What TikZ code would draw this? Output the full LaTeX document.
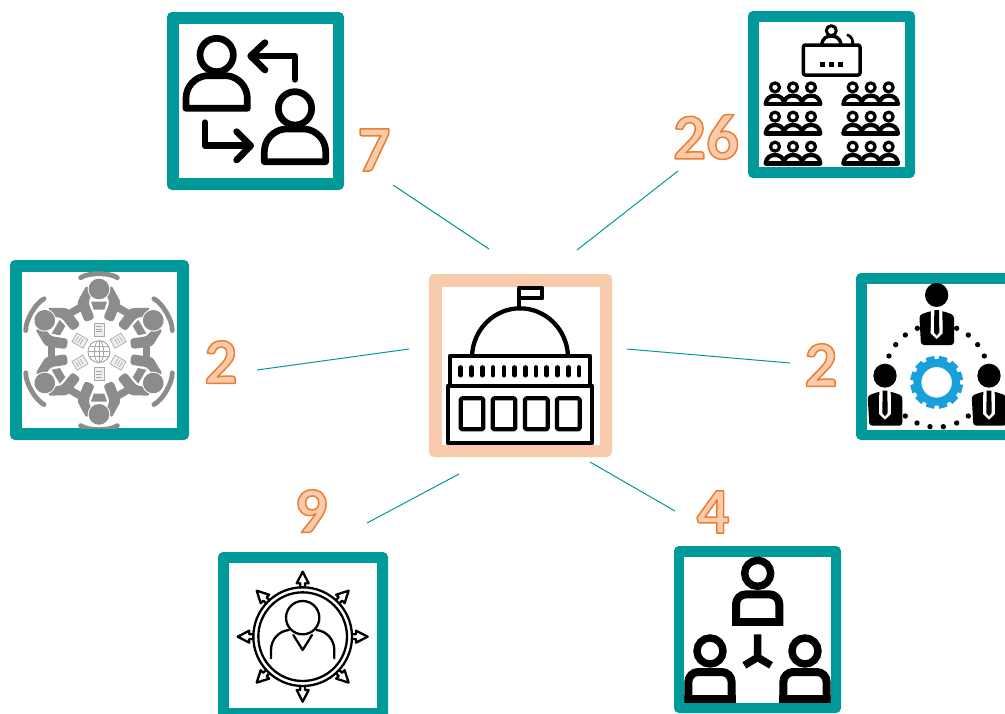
\documentclass[tikz,border=0pt]{standalone}
\usepackage{fontspec}
\newfontface\countfont{Carlito Bold}
\definecolor{teal0}{HTML}{009999}
\definecolor{peach}{HTML}{F8CBAD}
\definecolor{grey0}{HTML}{8C8C8C}
\definecolor{grey1}{HTML}{A8A8A8}
\definecolor{grey2}{HTML}{EFEFEF}
\definecolor{gearblue}{HTML}{17A0DC}
\newcommand\outl[1]{\special{pdf:code 1 j 2 Tr 1.5 w 0.93 0.49 0.19 RG 0.973 0.796 0.678 rg}#1}
\tikzset{
  zoomed/.style={x=0.33333pt,y=-0.33333pt},
  outerbox/.style={fill=#1,rounded corners=5pt,inner sep=0pt,outer sep=0pt},
  innerbox/.style={fill=white,inner sep=0pt,outer sep=0pt},
  spoke/.style={draw=teal0,line width=1pt},
  countlabel/.style={inner sep=0pt,font=\countfont\fontsize{65}{65}\selectfont},
  ink/.style={draw=black,line join=round,line cap=round},
}
\newcommand\iconperson{%
  \draw[ink,line width=6.7pt] (0,0) circle[radius=50];
  \draw[ink,line width=6.7pt] (-92,160)--(92,160)--(92,130) .. controls (92,95) and (65,65) .. (30,62) -- (-30,62) .. controls (-65,65) and (-92,95) .. (-92,130) -- cycle;
}
\newcommand\hallgroup{%
  \foreach \px in {0,54,108}{
    \draw[ink,line width=3.2pt] (\px,0) circle[radius=13.5];
    \draw[ink,line width=4.2pt] (\px-28,50) .. controls (\px-26,32) and (\px-14,25) .. (\px,25) .. controls (\px+14,25) and (\px+26,32) .. (\px+28,50);
  }
  \draw[ink,line width=4.4pt] (-26,50) -- (134,50);
}
\newcommand\suit{%
  \fill[black] (0,0) ellipse[x radius=35,y radius=36];
  \fill[black,rounded corners=3pt] (-52,60) -- (-18,48) -- (18,48) -- (52,60) -- (52,150) -- (-47,150) -- cycle;
  \fill[white] (-17,38) -- (17,38) -- (18,115) -- (0,132) -- (-18,115) -- cycle;
  \fill[black] (-7,45) -- (7,45) -- (8,112) -- (0,122) -- (-8,112) -- cycle;
}
\newcommand\squareperson{%
  \draw[black,line width=7.4pt] (0,0) circle[radius=39];
  \draw[black,line width=8pt,rounded corners=10pt] (-65,157) -- (-65,63) -- (65,63) -- (65,157);
  \draw[black,line width=8pt] (-77,145) -- (77,145);
}
\begin{document}
\begin{tikzpicture}[x=1pt,y=-1pt]
\clip (0,0) rectangle (1005,713);

% frames
\node[outerbox=teal0,minimum width=177pt,minimum height=178pt] (frameA) at (255.5,101) {};
\node[innerbox,minimum width=154pt,minimum height=154pt] (innerA) at (frameA.center) {};
\node[outerbox=teal0,minimum width=167pt,minimum height=167pt] (frameB) at (831.5,94.5) {};
\node[innerbox,minimum width=146pt,minimum height=145pt] (innerB) at (frameB.center) {};
\node[outerbox=teal0,minimum width=179pt,minimum height=180pt] (frameC) at (99.5,350) {};
\node[innerbox,minimum width=155pt,minimum height=156pt] (innerC) at (frameC.center) {};
\node[outerbox=peach,minimum width=183pt,minimum height=183pt] (hub) at (520.5,365.5) {};
\node[innerbox,minimum width=158pt,minimum height=158pt] (innerHub) at (hub.center) {};
\node[outerbox=teal0,minimum width=167pt,minimum height=167pt] (frameD) at (939.5,356.5) {};
\node[innerbox,minimum width=145pt,minimum height=146pt] (innerD) at (frameD.center) {};
\node[outerbox=teal0,minimum width=170pt,minimum height=167pt] (frameE) at (303,635.5) {};
\node[innerbox,minimum width=148pt,minimum height=145pt] (innerE) at (frameE.center) {};
\node[outerbox=teal0,minimum width=167pt,minimum height=167pt] (frameF) at (757.5,629.5) {};
\node[innerbox,minimum width=147pt,minimum height=146pt] (innerF) at (frameF.center) {};

% connectors
\coordinate (a1) at (393,185); \coordinate (a2) at (489,249);
\coordinate (b1) at (678,171); \coordinate (b2) at (577,250);
\coordinate (c1) at (257,370); \coordinate (c2) at (409,349);
\coordinate (d1) at (790,363); \coordinate (d2) at (627,349);
\coordinate (e1) at (367,523); \coordinate (e2) at (459,474);
\coordinate (f1) at (675,511); \coordinate (f2) at (590,462);
\draw[spoke] (a1) -- (a2);
\draw[spoke] (b1) -- (b2);
\draw[spoke] (c1) -- (c2);
\draw[spoke] (d1) -- (d2);
\draw[spoke] (e1) -- (e2);
\draw[spoke] (f1) -- (f2);

% counts
\node[countlabel] (n7) at (374,150) {\outl{7}};
\node[countlabel] (n26) at (706,137) {\outl{26}};
\node[countlabel] (n2a) at (221,362) {\outl{2}};
\node[countlabel] (n2b) at (821,365) {\outl{2}};
\node[countlabel] (n9) at (311,511) {\outl{9}};
\node[countlabel] (n4) at (713,512) {\outl{4}};

% icon A: exchange of persons
\begin{scope}[shift={(160,0)},zoomed]
  \begin{scope}[shift={(170,165)}]\iconperson\end{scope}
  \begin{scope}[shift={(405,325)}]\iconperson\end{scope}
  \draw[ink,line width=6.7pt] (405,238) -- (405,168) -- (275,168);
  \draw[ink,line width=6.7pt] (315,128) -- (272,168) -- (315,210);
  \draw[ink,line width=6.7pt] (135,368) -- (135,437) -- (270,437);
  \draw[ink,line width=6.7pt] (230,395) -- (272,437) -- (230,480);
\end{scope}

% icon B: lecture hall
\begin{scope}[shift={(670,0)},zoomed]
  \draw[ink,line width=3pt] (484,92) circle[radius=15];
  \draw[ink,line width=3.4pt] (455,132) .. controls (458,115) and (470,108) .. (484,108) .. controls (498,108) and (510,115) .. (513,132);
  \draw[ink,line width=2.8pt] (533,105) .. controls (545,110) and (549,120) .. (548,132);
  \draw[ink,line width=3.5pt,rounded corners=2pt] (400,135) rectangle (570,225);
  \fill (451,186) rectangle (465,200);
  \fill (477,186) rectangle (491,200);
  \fill (505,186) rectangle (519,200);
  \foreach \gx in {315,548}{
    \foreach \gy in {262,350,440}{
      \begin{scope}[shift={(\gx,\gy)}]\hallgroup\end{scope}
    }
  }
\end{scope}

% icon C: round table
\begin{scope}[shift={(0,250)},zoomed]
  \clip (65,65) rectangle (532,535);
  \begin{scope}[shift={(297,305)}]
    \foreach \ang in {0,60,...,300}{
      \begin{scope}[rotate=\ang+30]
        \draw[grey0,line width=7.4pt] (-20,-143) -- (20,-143);
      \end{scope}
      \begin{scope}[rotate=\ang]
        \fill[grey0,rounded corners=3pt] (-37,-200) -- (-66,-147) -- (-42,-88) -- (-13,-100) -- (-32,-148) -- (-22,-172) -- cycle;
        \fill[grey0,rounded corners=3pt] (37,-200) -- (66,-147) -- (42,-88) -- (13,-100) -- (32,-148) -- (22,-172) -- cycle;
        \fill[grey0] (-24,-150) -- (24,-150) -- (16,-126) -- (-16,-126) -- cycle;
        \fill[white] (0,-188) circle[radius=34];
        \fill[grey0] (0,-188) circle[radius=31];
        \draw[grey0,line width=4.8pt,line cap=round] (-55,-222) .. controls (-30,-238) and (30,-238) .. (55,-222);
        \draw[grey1,fill=grey2,line width=0.7pt] (-15,-85) rectangle (15,-47);
        \draw[grey1,line width=0.6pt] (-9,-76) -- (9,-76) (-9,-68) -- (9,-68) (-9,-60) -- (9,-60);
      \end{scope}
    }
    \draw[grey1,line width=1pt] (0,0) circle[radius=33];
    \draw[grey1,line width=0.8pt] (0,0) ellipse[x radius=14,y radius=33];
    \draw[grey1,line width=0.8pt] (0,-33) -- (0,33) (-33,0) -- (33,0) (-29,-15) -- (29,-15) (-29,15) -- (29,15);
  \end{scope}
\end{scope}

% icon D: hub building
\begin{scope}[shift={(420,265)},zoomed]
  \draw[ink,line width=4.3pt,line cap=butt] (298,130) -- (298,68) -- (367,68) -- (367,100) -- (298,100);
  \draw[ink,line width=4.3pt,line cap=butt] (156,272) .. controls (160,190) and (225,130) .. (300,130) .. controls (375,130) and (440,190) .. (444,272);
  \draw[ink,line width=4.3pt] (90,360) -- (90,273) -- (510,273) -- (510,360);
  \draw[ink,line width=4.3pt] (83,362) rectangle (517,533);
  \foreach \sx in {122,154,187,219,252,284,316,348,380,412,445,477}{
    \draw[black,line width=4.4pt,line cap=round] (\sx,307) -- (\sx,331);
  }
  \foreach \wx in {122,218,315,411}{
    \draw[ink,line width=4.3pt,rounded corners=1.5pt] (\wx,400) rectangle (\wx+68,493);
  }
\end{scope}

% icon E: team with gear
\begin{scope}[shift={(800,265)},zoomed]
  \begin{scope}[shift={(410,90)}]\suit\end{scope}
  \begin{scope}[shift={(255,332)}]\suit\end{scope}
  \begin{scope}[shift={(567,332)}]\suit\end{scope}
  \foreach \dx/\dy in {352/190,470/190,316/210,287/239,267/273,505/210,533/239,553/273,316/453,351/474,390/485,430/485,470/474,505/453}{
    \fill (\dx,\dy) circle[radius=8];
  }
  \draw[gearblue,line width=8pt] (410,352) circle[radius=58];
  \foreach \ta in {0,30,...,330}{
    \begin{scope}[shift={(410,352)},rotate=\ta+15]
      \draw[gearblue,line width=8.5pt] (60,0) -- (79,0);
    \end{scope}
  }
\end{scope}

% icon F: person in compass
\begin{scope}[shift={(210,545)},zoomed]
  \draw[ink,line width=2.3pt] (278,275) circle[radius=148];
  \draw[ink,line width=2.3pt] (278,275) circle[radius=133];
  \draw[ink,line width=2.3pt] (278,218) circle[radius=50];
  \draw[ink,line width=2.3pt] (183,340) -- (183,315) .. controls (183,285) and (205,258) .. (237,255);
  \draw[ink,line width=2.3pt] (373,340) -- (373,315) .. controls (373,285) and (351,258) .. (319,255);
  \draw[ink,line width=2.3pt] (250,270) -- (278,315) -- (306,270);
  \foreach \ra in {0,45,...,315}{
    \begin{scope}[shift={(278,275)},rotate=\ra]
      \draw[ink,line width=2.3pt] (-7,-148) -- (-7,-160) -- (-18,-160) -- (0,-195) -- (18,-160) -- (7,-160) -- (7,-148);
    \end{scope}
  }
\end{scope}

% icon G: three persons
\begin{scope}[shift={(665,540)},zoomed]
  \begin{scope}
  \clip (58,49) rectangle (497,487);
  \begin{scope}[shift={(278,100)}]\squareperson\end{scope}
  \begin{scope}[shift={(135,333)}]\squareperson\end{scope}
  \begin{scope}[shift={(420,333)}]\squareperson\end{scope}
  \end{scope}
  \draw[black,line width=7.4pt,line join=miter] (278,283) -- (278,352) -- (238,376);
  \draw[black,line width=7.4pt] (278,352) -- (318,376);
\end{scope}
\end{tikzpicture}
\end{document}
